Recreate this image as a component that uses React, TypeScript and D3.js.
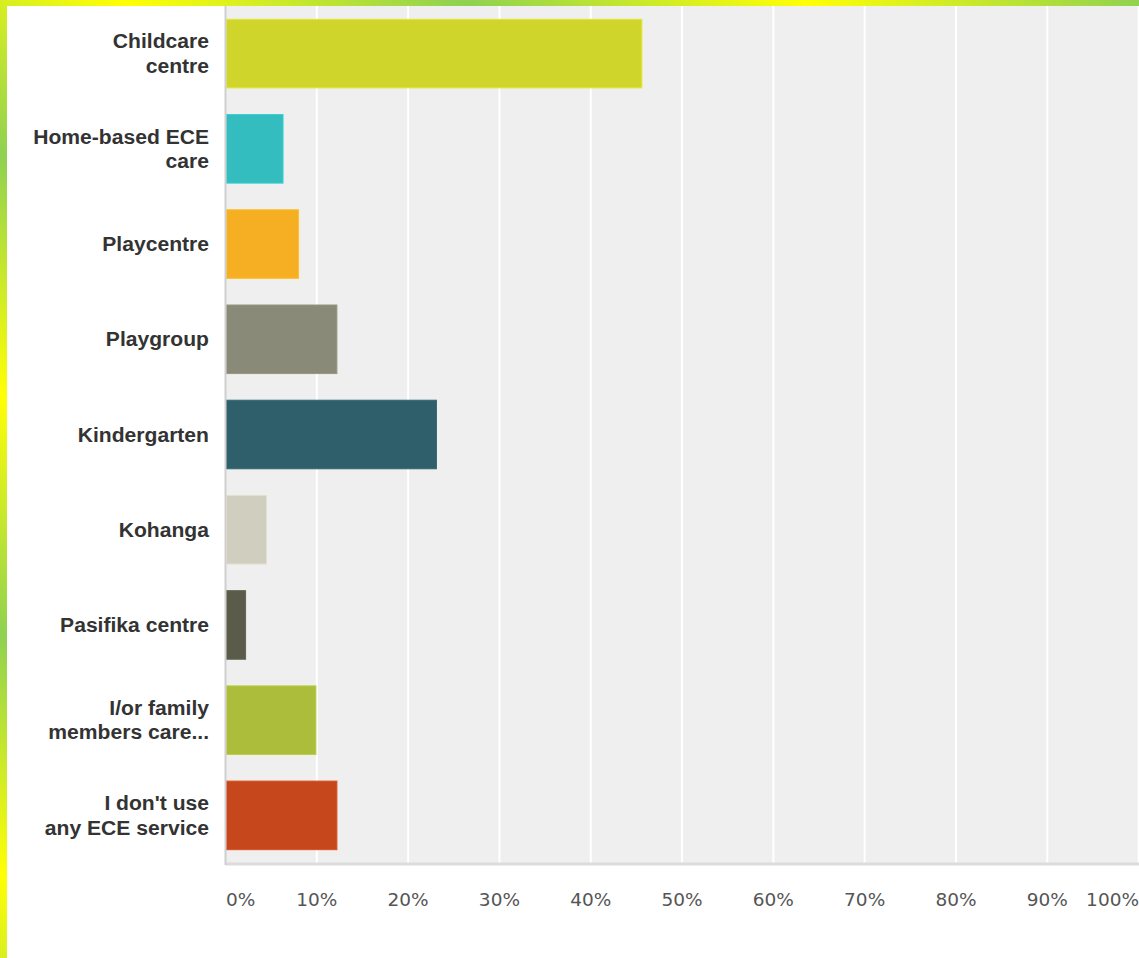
import React from "react";
import * as d3 from "d3";

const categories: string[] = [
  "Childcare centre",
  "Home-based ECE care",
  "Playcentre",
  "Playgroup",
  "Kindergarten",
  "Kohanga",
  "Pasifika centre",
  "I/or family members care...",
  "I don't use any ECE service",
];

const labelLines: string[][] = [
  ["Childcare", "centre"],
  ["Home-based ECE", "care"],
  ["Playcentre"],
  ["Playgroup"],
  ["Kindergarten"],
  ["Kohanga"],
  ["Pasifika centre"],
  ["I/or family", "members care..."],
  ["I don't use", "any ECE service"],
];

const values: number[] = [45.6, 6.3, 8.0, 12.2, 23.1, 4.5, 2.2, 9.9, 12.2];

const colors: string[] = [
  "#cfd52a",
  "#33bdbe",
  "#f6af22",
  "#8a8a78",
  "#2f5f6b",
  "#cfcebf",
  "#5b5b4a",
  "#abbd3a",
  "#c7471c",
];

const ticks: number[] = [0, 10, 20, 30, 40, 50, 60, 70, 80, 90, 100];

const W = 1139;
const H = 958;

export default function App() {
  const plotLeft = 225.5;
  const plotTop = 6;
  const plotBottom = 863;
  const x = d3.scaleLinear().domain([0, 100]).range([plotLeft, 1138.6]);
  const y = d3
    .scaleBand<string>()
    .domain(categories)
    .range([plotTop, plotBottom])
    .paddingInner(0.28)
    .paddingOuter(0.14);

  const lineH = 24.5;

  return (
    <div style={{ position: "absolute", left: 0, top: 0, width: W, height: H, overflow: "hidden", background: "#fff" }}>
      <svg width={W} height={H} style={{ display: "block" }}>
        <defs>
          <linearGradient
            id="stripe"
            gradientUnits="userSpaceOnUse"
            x1={122}
            y1={0}
            x2={122 + 226}
            y2={-320}
            spreadMethod="repeat"
          >
            <stop offset="0" stopColor="#ffff05" />
            <stop offset="0.5" stopColor="#8fd152" />
            <stop offset="1" stopColor="#ffff05" />
          </linearGradient>
        </defs>
        <rect x={0} y={0} width={W} height={H} fill="#ffffff" />
        {/* plot background */}
        <rect x={plotLeft} y={plotTop} width={W - plotLeft} height={plotBottom - plotTop} fill="#efefef" />
        {/* gridlines */}
        {ticks.slice(1).map((t) => (
          <line key={t} x1={x(t)} x2={x(t)} y1={plotTop} y2={plotBottom} stroke="#ffffff" strokeWidth={2} />
        ))}
        {/* bars */}
        {categories.map((c, i) => (
          <rect
            key={c}
            x={x(0) + 1}
            y={y(c)!}
            width={x(values[i]) - x(0) - 1}
            height={y.bandwidth()}
            fill={colors[i]}
            stroke={d3.color(colors[i])!.brighter(0.25).formatHex()}
            strokeWidth={1}
          />
        ))}
        {/* axes lines */}
        <line x1={plotLeft} x2={W} y1={plotBottom + 1} y2={plotBottom + 1} stroke="#dcdcdc" strokeWidth={3} />
        <line x1={plotLeft} x2={plotLeft} y1={plotTop} y2={plotBottom + 2} stroke="#cfcfcf" strokeWidth={2} />
        {/* category labels */}
        {categories.map((c, i) => {
          const center = y(c)! + y.bandwidth() / 2;
          const lines = labelLines[i];
          return (
            <text
              key={c}
              textAnchor="end"
              fontFamily="'Liberation Sans', Arial, sans-serif"
              fontWeight="bold"
              fontSize={21.1}
              fill="#333333"
            >
              {lines.map((l, j) => (
                <tspan key={j} x={209} y={center + 7 + (j - (lines.length - 1) / 2) * lineH}>
                  {l}
                </tspan>
              ))}
            </text>
          );
        })}
        {/* tick labels */}
        {ticks.map((t, i) => {
          let anchor: "start" | "middle" | "end" = "middle";
          let tx = x(t);
          if (i === 0) {
            anchor = "start";
            tx = plotLeft + 0.5;
          } else if (i === ticks.length - 1) {
            anchor = "end";
            tx = W;
          }
          return (
            <text
              key={t}
              x={tx}
              y={906}
              textAnchor={anchor}
              fontFamily="'DejaVu Sans', Verdana, sans-serif"
              fontSize={18.5}
              fill="#555555"
            >
              {t + "%"}
            </text>
          );
        })}
        {/* decorative border */}
        <rect x={0} y={0} width={W} height={6} fill="url(#stripe)" />
        <rect x={0} y={0} width={7} height={H} fill="url(#stripe)" />
      </svg>
    </div>
  );
}
